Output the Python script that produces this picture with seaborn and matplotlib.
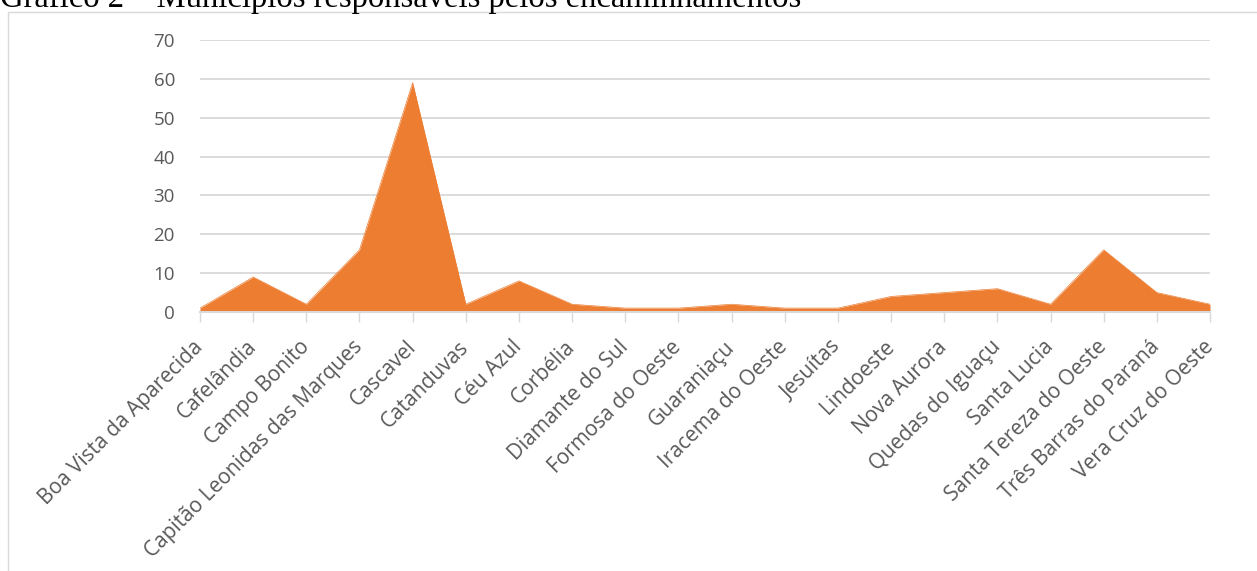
import matplotlib
matplotlib.use("Agg")
import matplotlib.pyplot as plt
import seaborn as sns
import pandas as pd
from matplotlib.patches import Rectangle

municipios = ["Boa Vista da Aparecida", "Cafelândia", "Campo Bonito",
              "Capitão Leonidas das Marques", "Cascavel", "Catanduvas",
              "Céu Azul", "Corbélia", "Diamante do Sul", "Formosa do Oeste",
              "Guaraniaçu", "Iracema do Oeste", "Jesuítas", "Lindoeste",
              "Nova Aurora", "Quedas do Iguaçu", "Santa Lucia",
              "Santa Tereza do Oeste", "Três Barras do Paraná", "Vera Cruz do Oeste"]
encaminhamentos = [1, 9, 2, 16, 59, 2, 8, 2, 1, 1, 2, 1, 1, 4, 5, 6, 2, 16, 5, 2]
yticks = [0, 10, 20, 30, 40, 50, 60, 70]
titulo = "Gráfico 2 – Municípios responsáveis pelos encaminhamentos"

sns.set_theme(style="white")
plt.rcParams['font.family'] = ['Open Sans', 'DejaVu Sans']

df = pd.DataFrame({"pos": range(len(municipios)), "valor": encaminhamentos})

fig = plt.figure(figsize=(12.57, 5.71), dpi=100)
W, H = 1257, 571
ax = fig.add_axes([200 / W, 1 - 312 / H, 1010 / W, 272 / H])

orange = "#ED7D31"
ax.fill_between(df["pos"], 0, df["valor"], color=orange, lw=0, zorder=3)
sns.lineplot(data=df, x="pos", y="valor", ax=ax, color=orange, lw=0.5, zorder=3)

ax.set_xlim(0, len(municipios) - 1)
ax.set_ylim(0, 70)
ax.set_yticks(yticks)
ax.set_yticklabels([str(v) for v in yticks], fontsize=13.5, color="#595959")
ax.set_xticks(df["pos"])
ax.set_xticklabels(municipios, rotation=45, ha="right", va="center",
                   rotation_mode="anchor", fontsize=15, color="#595959")
ax.set_xlabel("")
ax.set_ylabel("")
ax.grid(axis="y", color="#d9d9d9", lw=1.3, zorder=0)
ax.grid(axis="x", visible=False)
for s in ["top", "right", "left"]:
    ax.spines[s].set_visible(False)
ax.spines["bottom"].set_color("#d9d9d9")
ax.spines["bottom"].set_linewidth(1.5)
ax.spines["bottom"].set_zorder(4)
ax.tick_params(axis="x", which="both", bottom=True, length=7, width=1,
               color="#d9d9d9", pad=16)
ax.tick_params(axis="y", length=0, pad=18)

# chart border
fig.patches.append(Rectangle((8 / W, -0.1), 1.2, 1 - 12 / H + 0.1,
                             transform=fig.transFigure, fill=False,
                             edgecolor="#d9d9d9", lw=1, zorder=0))

fig.text(0, 1 - 7 / H, titulo, fontsize=23.5,
         family=["Liberation Serif", "DejaVu Serif"],
         color="black", ha="left", va="baseline")

fig.savefig("out.png", dpi=100)
